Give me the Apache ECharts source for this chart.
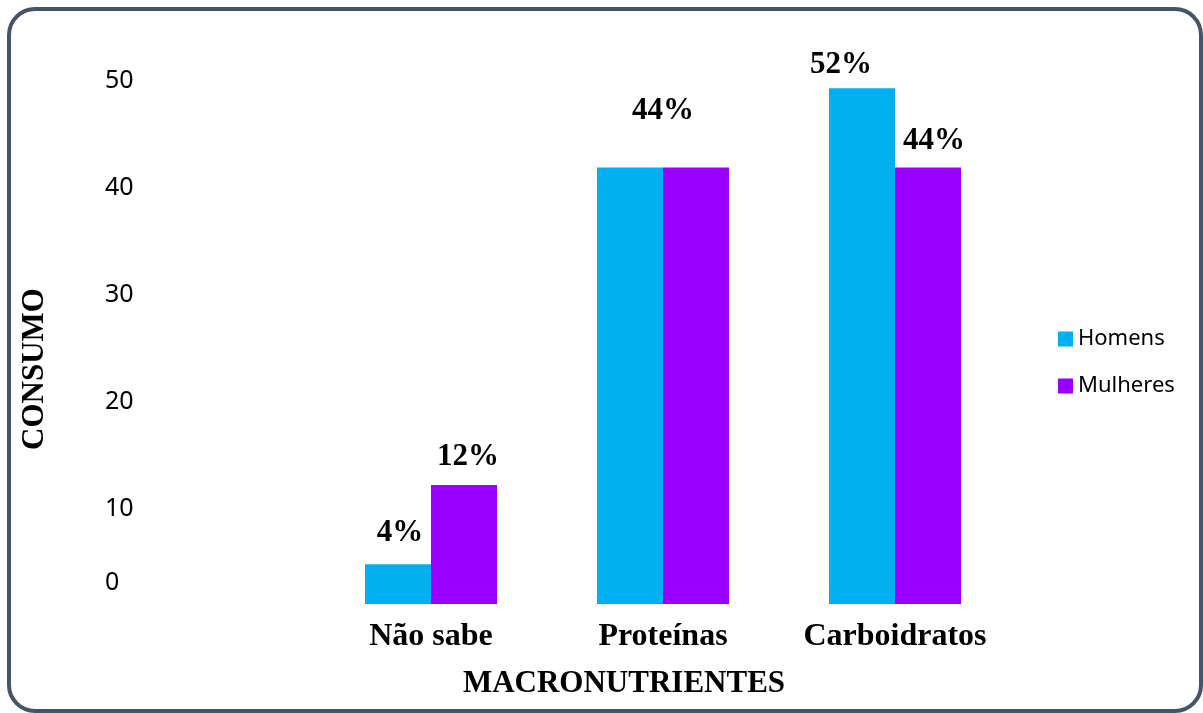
<!DOCTYPE html>
<html lang="pt">
<head>
    <meta charset="UTF-8">
    <title>Macronutrientes</title>
    <script src="https://cdn.jsdelivr.net/npm/echarts@6/dist/echarts.min.js"></script>
    <style>
        body {
            margin: 0;
            padding: 0;
            overflow: hidden;
            background: #fff;
        }
        #chart {
            width: 1203px;
            height: 713px;
        }
    </style>
</head>
<body>
<div id="chart"></div>
<script>
    // dados
    const categories = ['Não sabe', 'Proteínas', 'Carboidratos'];
    const homens = [4, 44, 52];
    const mulheres = [12, 44, 44];
    // rotulos do eixo vertical (o "0" fica fora do lugar no original)
    const tickValues = [3.1, 10, 20, 30, 40, 50];
    const tickLabels = ['0', '10', '20', '30', '40', '50'];

    const serif = 'Liberation Serif';
    const sans = 'Noto Sans';

    // ajustes finos de posicao dos rotulos das barras
    const homensLabel = [
        { offset: [2, -8] },
        { show: false },
        { offset: [-21, 0] }
    ];
    const mulheresLabel = [
        { offset: [4, -4] },
        { offset: [-33, -33] },
        { offset: [6, -3] }
    ];

    function buildData(values, labels) {
        return values.map(function (v, i) {
            return { value: v, label: labels[i] };
        });
    }

    const labelStyle = {
        show: true,
        position: 'top',
        distance: 8,
        formatter: '{c}%',
        fontFamily: serif,
        fontWeight: 'bold',
        fontSize: 31,
        color: '#000'
    };

    const chart = echarts.init(document.getElementById('chart'));
    chart.setOption({
        animation: false,
        graphic: [{
            type: 'rect',
            shape: { x: 9, y: 9, width: 1192, height: 702, r: 26 },
            style: { fill: 'none', stroke: '#44546a', lineWidth: 4 },
            silent: true
        }],
        legend: {
            orient: 'vertical',
            left: 1053,
            top: 323,
            itemWidth: 15,
            itemHeight: 15,
            itemGap: 25,
            icon: 'rect',
            textStyle: { fontFamily: sans, fontSize: 22, color: '#000' },
            data: ['Homens', 'Mulheres']
        },
        grid: { left: 315, right: 192, top: 60, bottom: 109 },
        xAxis: {
            type: 'category',
            data: categories,
            axisLine: { show: false },
            axisTick: { show: false },
            axisLabel: {
                interval: 0,
                margin: 17,
                fontFamily: serif,
                fontWeight: 'bold',
                fontSize: 32,
                color: '#000'
            },
            name: 'MACRONUTRIENTES',
            nameLocation: 'middle',
            nameGap: 64,
            nameTextStyle: {
                fontFamily: serif,
                fontWeight: 'bold',
                fontSize: 31,
                color: '#000',
                padding: [0, 78, 0, 0]
            }
        },
        yAxis: [{
            type: 'value',
            min: 0,
            max: 54.84,
            show: false
        }, {
            type: 'value',
            min: 1.12,
            max: 51.96,
            position: 'left',
            axisLine: { show: false },
            axisTick: { show: false },
            splitLine: { show: false },
            axisLabel: {
                customValues: tickValues,
                formatter: function (v) {
                    const i = tickValues.indexOf(v);
                    return i >= 0 ? tickLabels[i] : '';
                },
                align: 'left',
                margin: 210,
                fontFamily: sans,
                fontSize: 25,
                color: '#000'
            },
            name: 'CONSUMO',
            nameLocation: 'middle',
            nameGap: 265,
            nameTextStyle: {
                fontFamily: serif,
                fontWeight: 'bold',
                fontSize: 31,
                color: '#000',
                padding: [0, 74, 0, 0]
            }
        }],
        series: [{
            name: 'Homens',
            type: 'bar',
            yAxisIndex: 0,
            barWidth: 66,
            barGap: '0%',
            itemStyle: { color: '#00b0f0' },
            label: labelStyle,
            data: buildData(homens, homensLabel)
        }, {
            name: 'Mulheres',
            type: 'bar',
            yAxisIndex: 0,
            barWidth: 66,
            barGap: '0%',
            itemStyle: { color: '#9900ff' },
            label: labelStyle,
            data: buildData(mulheres, mulheresLabel)
        }]
    });

    window.onresize = function () {
        chart.resize();
    };
</script>
</body>
</html>
